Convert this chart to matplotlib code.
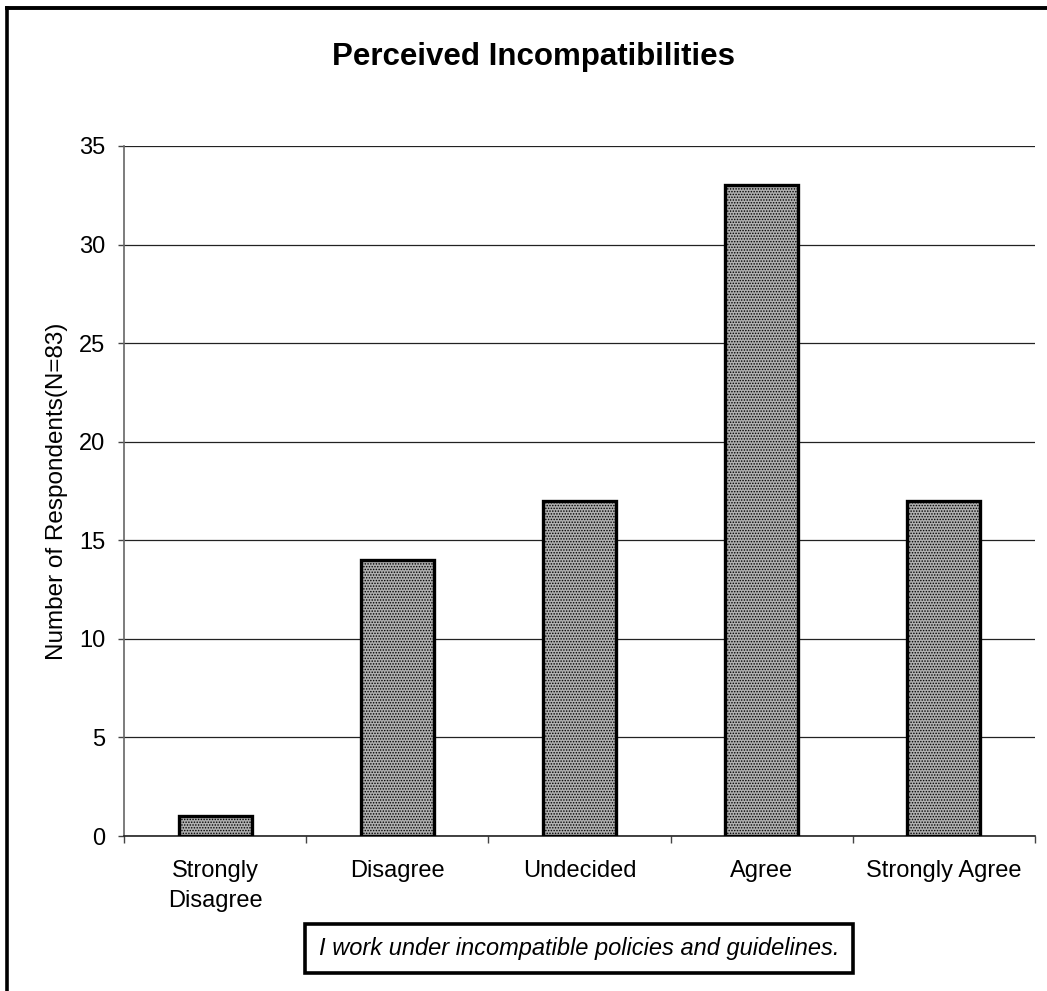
import matplotlib
matplotlib.use("Agg")
import matplotlib.pyplot as plt
from matplotlib.lines import Line2D
from matplotlib.patches import Rectangle

plt.rcParams['font.family'] = ['Liberation Sans', 'DejaVu Sans']
plt.rcParams['hatch.linewidth'] = 0.7
plt.rcParams['hatch.color'] = '#4a4a4a'

categories = ["Strongly\nDisagree", "Disagree", "Undecided", "Agree", "Strongly Agree"]
respondents = [1, 14, 17, 33, 17]
y_ticks = [0, 5, 10, 15, 20, 25, 30, 35]
title = "Perceived Incompatibilities"
y_label = "Number of Respondents(N=83)"
caption = "I work under incompatible policies and guidelines."

fig = plt.figure(figsize=(10.47, 9.91), dpi=100)
ax = fig.add_axes([0.1184, 0.1564, 0.8701, 0.6963])

x = list(range(len(categories)))
ax.bar(x, respondents, width=0.4, color='#b0b0b0', edgecolor='black',
       linewidth=2.4, hatch='......', zorder=3)

ax.set_xlim(-0.5, len(categories) - 0.5)
ax.set_ylim(0, 35)
ax.set_yticks(y_ticks)
ax.yaxis.grid(True, color='#222222', linewidth=0.9, zorder=0)
ax.set_axisbelow(True)

ax.set_xticks(x)
ax.set_xticklabels(categories, fontsize=17, linespacing=1.5)
ax.set_xticks([i - 0.5 for i in range(len(categories) + 1)], minor=True)
ax.tick_params(axis='x', which='major', length=0, pad=17)
ax.tick_params(axis='x', which='minor', length=5, width=1, color='#444444')
ax.tick_params(axis='y', labelsize=17, length=4.5, width=1, color='#444444', pad=9)

for side in ('top', 'right'):
    ax.spines[side].set_visible(False)
ax.spines['left'].set_color('#666666')
ax.spines['left'].set_linewidth(1.2)
ax.spines['bottom'].set_color('#222222')
ax.spines['bottom'].set_linewidth(1.2)

fig.text(0.054, 0.5045, y_label, rotation=90, ha='center', va='center', fontsize=17.5)

fig.text(0.510, 0.9425, title, ha='center', va='center', fontsize=22.5, fontweight='bold')

# caption box below the chart
fig.add_artist(Rectangle((0.2913, 0.0182), 0.5234, 0.0494, transform=fig.transFigure,
                         facecolor='white', edgecolor='black', linewidth=2.6))
fig.text(0.553, 0.0425, caption, ha='center', va='center', fontsize=17, style='italic')

# outer frame
fig.add_artist(Line2D([0.007, 0.007], [0.0, 0.9915], transform=fig.transFigure,
                      color='black', linewidth=2.6))
fig.add_artist(Line2D([0.007, 1.0], [0.9915, 0.9915], transform=fig.transFigure,
                      color='black', linewidth=2.8))

fig.savefig("out.png", dpi=100, facecolor='white')
